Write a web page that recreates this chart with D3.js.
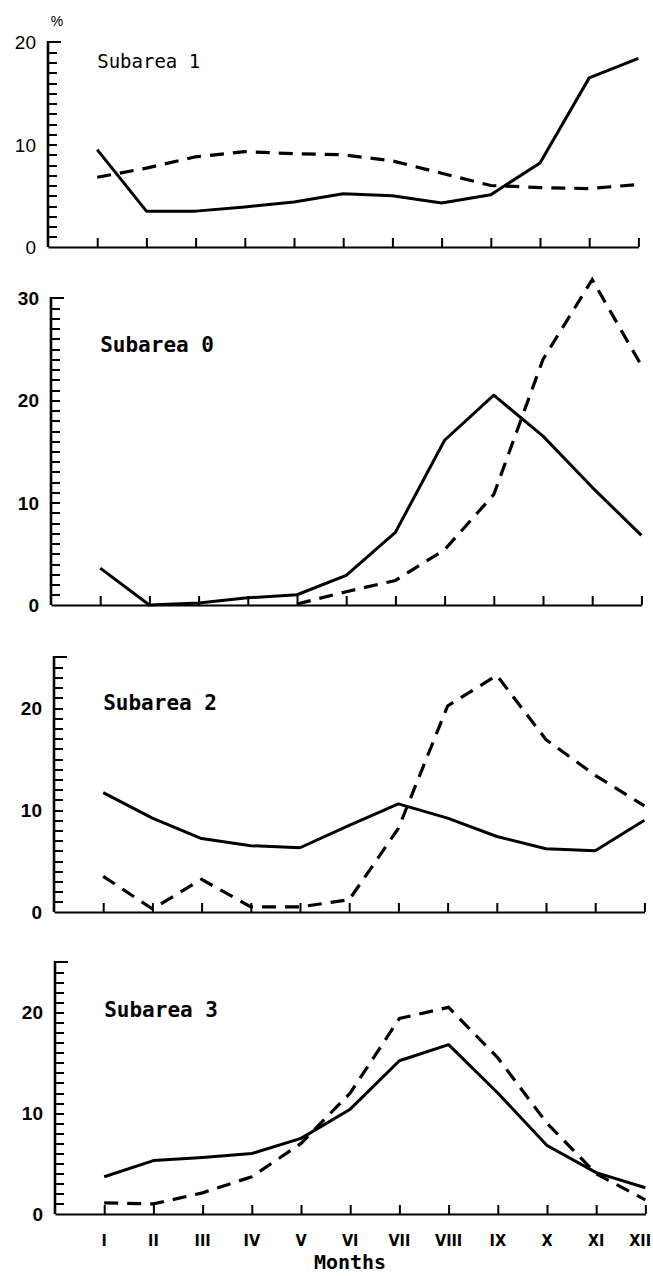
<!DOCTYPE html>
<html>
<head>
<meta charset="utf-8">
<script src="https://cdn.jsdelivr.net/npm/d3@7"></script>
<style>
	body { margin: 0; background: #fff; }
	svg { display: block; }
</style>
</head>
<body>
<div id="chart"></div>
<script>
// Months on the x axis
var months = ["I", "II", "III", "IV", "V", "VI", "VII", "VIII", "IX", "X", "XI", "XII"];

// Subarea names, top to bottom
var areaNames = ["Subarea 1", "Subarea 0", "Subarea 2", "Subarea 3"];

// y axis maximum and labelled ticks per panel
var yMax = [20, 30, 25, 25];
var yLabels = [[0, 10, 20], [0, 10, 20, 30], [0, 10, 20], [0, 10, 20]];

// monthly percentages (solid and dashed lines)
var sub1Solid  = [9.5, 3.5, 3.5, 3.9, 4.4, 5.2, 5.0, 4.3, 5.1, 8.2, 16.5, 18.4];
var sub1Dashed = [6.8, 7.7, 8.8, 9.3, 9.1, 9.0, 8.4, 7.2, 6.0, 5.8, 5.7, 6.1];

var sub0Solid  = [3.6, 0, 0.2, 0.7, 1.0, 2.9, 7.1, 16.1, 20.5, 16.5, 11.5, 6.8];
var sub0Dashed = [null, null, null, null, 0.1, 1.3, 2.4, 5.4, 10.8, 24.0, 31.8, 23.4];

var sub2Solid  = [11.7, 9.2, 7.2, 6.5, 6.3, 8.5, 10.6, 9.2, 7.4, 6.2, 6.0, 9.0];
var sub2Dashed = [3.5, 0.3, 3.2, 0.5, 0.5, 1.2, 8.2, 20.2, 23.2, 16.9, 13.4, 10.4];

var sub3Solid  = [3.7, 5.3, 5.6, 6.0, 7.5, 10.4, 15.2, 16.8, 12.0, 6.8, 4.1, 2.6];
var sub3Dashed = [1.1, 1.0, 2.1, 3.7, 7.0, 12.0, 19.4, 20.5, 15.5, 9.0, 4.0, 1.4];

var solids = [sub1Solid, sub0Solid, sub2Solid, sub3Solid];
var dashes = [sub1Dashed, sub0Dashed, sub2Dashed, sub3Dashed];

// panel layout (pixels)
var layout = [
	{ left: 48, zero: 247, top: 42, labelY: 68, bold: false, labelSize: 19 },
	{ left: 51, zero: 605, top: 298, labelY: 352, bold: true, labelSize: 21 },
	{ left: 54, zero: 912, top: 657, labelY: 710, bold: true, labelSize: 21 },
	{ left: 55, zero: 1214, top: 962, labelY: 1017, bold: true, labelSize: 21 }
];
var step = 49.2;

var svg = d3.select("#chart").append("svg")
	.attr("width", 653).attr("height", 1276);

layout.forEach(function(p, k) {
	var x = d3.scaleLinear().domain([0, 12]).range([p.left, p.left + 12 * step]);
	var y = d3.scaleLinear().domain([0, yMax[k]]).range([p.zero, p.top]);
	var g = svg.append("g");

	// y axis minor ticks
	var ya = g.append("g").attr("transform", "translate(" + p.left + ",0)")
		.call(d3.axisRight(y).tickValues(d3.range(1, yMax[k])).tickSize(9).tickFormat(""));
	ya.select(".domain").remove();
	ya.selectAll(".tick line")
		.attr("stroke", "#000").attr("stroke-width", 2)
		.attr("shape-rendering", "crispEdges");
	g.append("line")
		.attr("x1", p.left).attr("x2", p.left + 13)
		.attr("y1", p.top).attr("y2", p.top)
		.attr("stroke", "#000").attr("stroke-width", 2);
	g.append("line")
		.attr("x1", p.left).attr("x2", p.left)
		.attr("y1", p.zero).attr("y2", p.top - 1)
		.attr("stroke", "#000").attr("stroke-width", 2.6);

	// y labels
	g.selectAll("text.ylab").data(yLabels[k]).enter()
		.append("text").attr("class", "ylab")
		.attr("x", p.left - 12)
		.attr("y", d => y(d) + 7)
		.attr("text-anchor", "end")
		.attr("font-family", "Liberation Sans, sans-serif")
		.attr("font-weight", p.bold ? "bold" : "normal")
		.attr("font-size", 19)
		.text(d => d);

	// x axis
	var xa = g.append("g").attr("transform", "translate(0," + p.zero + ")")
		.call(d3.axisTop(x).tickValues(d3.range(1, 13)).tickSize(9).tickSizeOuter(0).tickFormat(""));
	xa.select(".domain").attr("stroke", "#000").attr("stroke-width", 2.2);
	xa.selectAll(".tick line").attr("stroke", "#000").attr("stroke-width", 2);

	// lines
	var line = d3.line()
		.defined(d => d !== null)
		.x((d, i) => x(i + 1))
		.y(d => y(d));
	g.append("path").datum(solids[k])
		.attr("d", line)
		.attr("fill", "none").attr("stroke", "#000")
		.attr("stroke-width", 3).attr("stroke-linejoin", "round");
	g.append("path").datum(dashes[k])
		.attr("d", line)
		.attr("fill", "none").attr("stroke", "#000")
		.attr("stroke-width", 3.2).attr("stroke-dasharray", "14,9");

	// panel title
	g.append("text")
		.attr("x", x(1))
		.attr("y", p.labelY)
		.attr("font-family", "DejaVu Sans Mono, monospace")
		.attr("font-weight", p.bold ? "bold" : "normal")
		.attr("font-size", p.labelSize)
		.text(areaNames[k]);

	// month labels under last panel
	if (k === layout.length - 1) {
		g.selectAll("text.month").data(months).enter()
			.append("text").attr("class", "month")
			.attr("x", (d, i) => i === 11 ? 651 : x(i + 1))
			.attr("y", 1246)
			.attr("text-anchor", (d, i) => i === 11 ? "end" : "middle")
			.attr("font-family", "DejaVu Sans Condensed, DejaVu Sans, sans-serif")
			.attr("font-stretch", "condensed")
			.attr("font-weight", "bold")
			.attr("font-size", 16)
			.text(d => d);
		g.append("text")
			.attr("x", 350).attr("y", 1269)
			.attr("text-anchor", "middle")
			.attr("font-family", "DejaVu Sans Mono, monospace")
			.attr("font-weight", "bold")
			.attr("font-size", 20)
			.text("Months");
	}
});

// percent sign above first panel
svg.append("text")
	.attr("x", 57).attr("y", 26)
	.attr("text-anchor", "middle")
	.attr("font-family", "Liberation Sans, sans-serif")
	.attr("font-size", 14)
	.text("%");
</script>
</body>
</html>
